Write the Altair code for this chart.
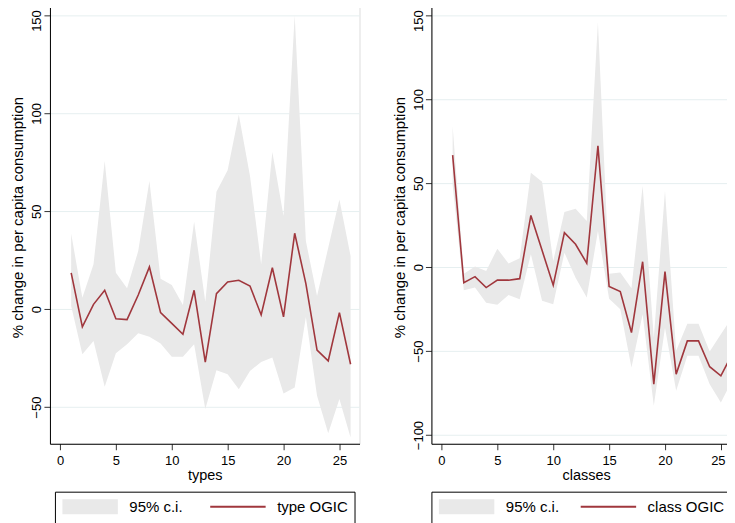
import altair as alt
import pandas as pd

# ---- data ----
x_vals = list(range(1, 27))

type_est = [18.6, -9.0, 2.5, 9.7, -4.9, -5.3, 7.3, 21.6, -1.7, -7.2, -12.8, 9.7, -27.0,
            8.0, 13.9, 14.8, 11.9, -2.9, 21.2, -3.9, 38.8, 13.1, -20.9, -26.4, -1.7, -28.1]
type_hi = [38.6, 5.9, 23.0, 75.7, 18.7, 10.7, 29.7, 65.5, 15.6, 12.4, 2.2, 44.7, 3.8,
           60.0, 71.0, 99.3, 68.0, 23.0, 80.3, 47.6, 150.0, 34.8, 6.8, 31.4, 56.1, 27.2]
type_lo = [1.7, -23.0, -16.2, -39.6, -22.5, -17.9, -12.3, -14.1, -17.5, -24.2, -24.3, -17.9, -51.0,
           -31.1, -33.2, -40.8, -31.5, -26.9, -24.7, -43.0, -40.0, -4.0, -44.2, -63.3, -45.9, -65.5]

class_est = [66.8, -9.2, -5.6, -12.1, -7.6, -7.7, -6.8, 30.9, 10.1, -10.7, 20.6, 13.7, 2.4,
             72.4, -11.5, -14.5, -38.9, 3.3, -69.7, -2.6, -63.7, -43.9, -43.9, -59.3, -64.7, -51.8]
class_hi = [84.1, -3.8, 0.4, -2.2, 11.1, 2.2, 5.4, 56.3, 51.0, 3.8, 32.9, 34.9, 27.6,
            146.0, -3.8, -3.2, -12.5, 48.4, -41.9, 45.4, -49.8, -33.6, -33.6, -50.2, -39.9, -30.0]
class_lo = [49.0, -13.7, -12.1, -21.1, -22.4, -16.5, -19.0, 7.7, -20.0, -22.0, 8.7, -6.2, -18.1,
            21.6, -18.7, -25.0, -59.8, -28.0, -82.6, -36.0, -73.6, -52.8, -52.8, -69.7, -80.6, -67.7]

x_ticks = [0, 5, 10, 15, 20, 25]
type_yticks = [-50, 0, 50, 100, 150]
class_yticks = [-100, -50, 0, 50, 100, 150]
ci_label = "95% c.i."
y_title = "% change in per capita consumption"

FONT = "Liberation Sans"
BAND = "#e9e9e9"
LINE = "#a0373d"
GRID = "#e6eff0"

# legend symbol: filled wide box; its stroke (dashed) only shows the middle line
SYM = "M-1,0H6.4V1H-1V-1H6.4V0Z"


def panel(est, lo, hi, ydomain, yticks, xtitle, line_label, legend_x, col_pad, last_x_shift):
    df = pd.DataFrame({"x": x_vals, "est": est, "lo": lo, "hi": hi,
                       "ci": ci_label, "ser": line_label})
    domain = [ci_label, line_label]
    xscale = alt.Scale(domain=[-0.9, 26.8], nice=False, zero=False)
    yscale = alt.Scale(domain=ydomain, nice=False, zero=False)
    xaxis = alt.Axis(values=x_ticks, title=xtitle, grid=False, labelFont=FONT,
                     labelFontSize=13, labelColor="black", labelPadding=5,
                     labelOffset={"condition": {"test": "datum.value == 25", "value": last_x_shift},
                                  "value": 0},
                     labelFlush=False, tickSize=6, tickColor="#333333",
                     domainColor="black", titleFont=FONT, titleFontSize=14.5,
                     titleFontWeight="normal", titleColor="black", titlePadding=1)
    yaxis = alt.Axis(values=yticks, title=y_title, grid=True, gridColor=GRID,
                     labelAngle=270, labelAlign="center", labelBaseline="alphabetic",
                     labelPadding=3, labelFont=FONT, labelFontSize=13,
                     labelOffset={"condition": {"test": "datum.value == 150", "value": 5},
                                  "value": 0},
                     labelColor="black", labelFlush=False, labelOverlap=False,
                     tickSize=6, tickColor="#333333", domainColor="black",
                     titleFont=FONT, titleFontSize=15, titleFontWeight="normal",
                     titleColor="black", titleAngle=270, titleX=-32, titleY=211,
                     titleAlign="center", titleBaseline="middle")
    legend = alt.Legend(orient="none", legendX=legend_x, legendY=486, direction="horizontal",
                        title=None, strokeColor="black", fillColor="white",
                        padding=6.5, cornerRadius=0, symbolType=SYM, symbolSize=225,
                        symbolStrokeWidth=2, symbolDash=[55.5, 400],
                        symbolOffset=0, labelOffset=51, columnPadding=col_pad,
                        labelFont=FONT, labelFontSize=15, labelColor="black",
                        labelLimit=300)
    base = alt.Chart(df)
    area = base.mark_area(opacity=1, interpolate="linear").encode(
        x=alt.X("x:Q", scale=xscale, axis=xaxis),
        y=alt.Y("lo:Q", scale=yscale, axis=yaxis),
        y2="hi:Q",
        fill=alt.Fill("ci:N", scale=alt.Scale(domain=domain, range=[BAND, "transparent"]),
                      legend=legend),
    )
    line = base.mark_line(strokeWidth=1.6, interpolate="linear").encode(
        x=alt.X("x:Q", scale=xscale, axis=xaxis),
        y=alt.Y("est:Q", scale=yscale, axis=yaxis),
        stroke=alt.Stroke("ser:N", scale=alt.Scale(domain=domain, range=["transparent", LINE]),
                          legend=legend),
    )
    return alt.layer(area, line).properties(width=310, height=438)


left = panel(type_est, type_lo, type_hi, [-68.7, 154.7], type_yticks, "types", "type OGIC",
             5, 23, 0)
right = panel(class_est, class_lo, class_hi, [-105.2, 155.5], class_yticks, "classes", "class OGIC",
              0, 17, -3)

chart = (
    alt.hconcat(left, right, spacing=72, bounds="flush")
    .resolve_scale(x="independent", y="independent", fill="independent", stroke="independent")
    .properties(padding={"left": 2, "top": -3, "right": -15, "bottom": 0}, background="white")
    .configure_view(stroke="transparent")
    .configure(font=FONT)
)

chart.save("out.html", embed_options={"renderer": "svg", "actions": False})
